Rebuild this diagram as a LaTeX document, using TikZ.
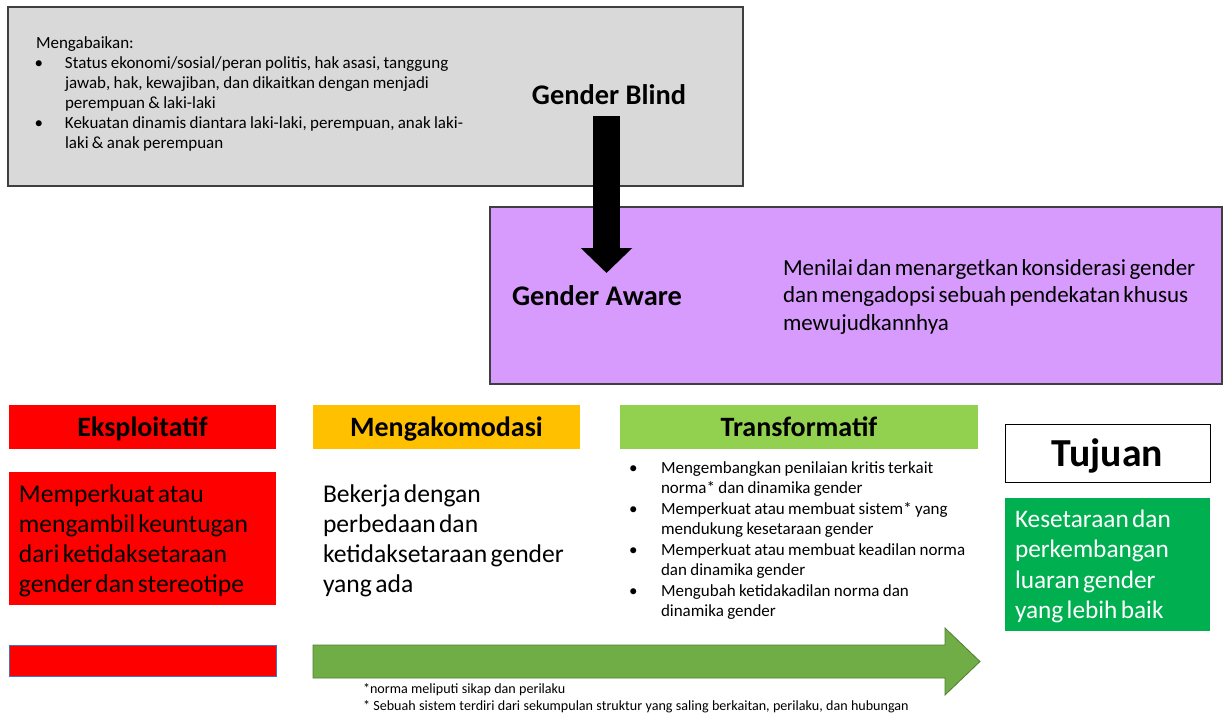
\documentclass[tikz,border=0pt]{standalone}
\usepackage{fontspec}
\setmainfont{Carlito}
\usetikzlibrary{arrows.meta}
\definecolor{grayfill}{HTML}{D9D9D9}
\definecolor{boxline}{HTML}{3F3F3F}
\definecolor{purplefill}{HTML}{D69BFC}
\definecolor{redfill}{HTML}{FF0000}
\definecolor{orangefill}{HTML}{FFC000}
\definecolor{lightgreen}{HTML}{92D050}
\definecolor{goalgreen}{HTML}{00B050}
\definecolor{arrowgreen}{HTML}{70AD47}
\definecolor{arrowedge}{HTML}{507E32}
\definecolor{bluedge}{HTML}{4472C4}
\newcommand\fs[2]{\fontsize{#1}{#2}\selectfont}
\newcommand\bul[1]{\par\noindent\hangindent=29pt\hangafter=1\makebox[29pt][l]{\hspace{-1.5pt}\textbullet}#1\par}
\newcommand\bull[1]{\noindent\hangindent=33pt\hangafter=1\makebox[33pt][l]{\hspace{1pt}\textbullet}#1\par}
\begin{document}
\begin{tikzpicture}[x=1pt,y=-1pt,
  panel/.style={draw=boxline, line width=1.3pt, inner sep=0pt, outer sep=0pt},
  header/.style={inner sep=0pt, outer sep=0pt, minimum width=267pt, minimum height=44pt, font=\fs{28}{32}\bfseries, text height=19pt, text depth=0pt},
  txt/.style={inner sep=0pt, outer sep=0pt, align=left},
  bigarrow/.style={line width=27pt, -{Triangle[length=25pt,width=50pt]}}
]
\useasboundingbox (0,0) rectangle (1224,715);

% gray panel
\node[panel, fill=grayfill, minimum width=735pt, minimum height=179pt] (gray) at (375.5,96.5) {};
\node[txt, anchor=base west, text width=470pt] (graytxt) at (36,48) {\fs{17}{20}Mengabaikan:\bul{Status ekonomi/sosial/peran politis, hak asasi, tanggung\newline jawab, hak, kewajiban, dan dikaitkan dengan menjadi\newline perempuan \& laki-laki}\bul{Kekuatan dinamis diantara laki-laki, perempuan, anak laki-\newline laki \& anak perempuan}};

% purple panel
\node[panel, fill=purplefill, minimum width=732pt, minimum height=177pt] (purple) at (856,295.5) {};
\node[txt, anchor=base west, text width=430pt] (awaretxt) at (783,275) {\fs{23}{27.5}Menilai dan menargetkan konsiderasi gender\newline dan mengadopsi sebuah pendekatan khusus\newline mewujudkannhya\par};

\node[inner sep=0pt, font=\fs{28.4}{32}\bfseries] (blind) at (609,95) {Gender Blind};
\node[inner sep=0pt, font=\fs{28.4}{32}\bfseries] (aware) at (597,296) {Gender Aware};
\draw[bigarrow] ([xshift=-2.5pt]blind.south |- 0,116) -- ([xshift=-2.5pt]blind.south |- 0,273);

% headers
\node[header, fill=redfill] (eks) at (142.5,427) {Eksploitatif};
\node[header, fill=orangefill] (meng) at (446.5,427) {Mengakomodasi};
\node[header, fill=lightgreen, minimum width=358pt] (trans) at (799,427) {Transformatif};
\node[draw=black, line width=1pt, inner sep=0pt, minimum width=205pt, minimum height=58pt, font=\fs{39.7}{44}\bfseries, text height=27pt, text depth=0pt] (tujuan) at (1107.5,453) {Tujuan};

% content
\node[fill=redfill, inner sep=0pt, minimum width=267pt, minimum height=133pt] (eksbox) at (142.5,538.5) {};
\node[txt, anchor=base west, text width=260pt] (ekstxt) at (19,502) {\fs{25.6}{30}Memperkuat atau\newline mengambil keuntugan\newline dari ketidaksetaraan\newline gender dan stereotipe\par};
\node[txt, anchor=base west, text width=280pt] (mengtxt) at (323,502) {\fs{25.6}{30.3}Bekerja dengan\newline perbedaan dan\newline ketidaksetaraan gender\newline yang ada\par};
\node[txt, anchor=base west, text width=340pt] (transtxt) at (628,473) {\fs{17}{20.5}\bull{Mengembangkan penilaian kritis terkait\newline norma* dan dinamika gender}\bull{Memperkuat atau membuat sistem* yang\newline mendukung kesetaraan gender}\bull{Memperkuat atau membuat keadilan norma\newline dan dinamika gender}\bull{Mengubah ketidakadilan norma dan\newline dinamika gender}};
\node[fill=goalgreen, inner sep=0pt, minimum width=205pt, minimum height=133pt] (goalbox) at (1107.5,564.5) {};
\node[txt, anchor=base west, text width=200pt, text=white] (goaltxt) at (1015,527.5) {\fs{25.3}{30.3}Kesetaraan dan\newline perkembangan\newline luaran gender\newline yang lebih baik\par};

% bottom bar and arrow
\node[fill=redfill, draw=bluedge, line width=0.8pt, inner sep=0pt, minimum width=267pt, minimum height=31pt] (redbar) at (142.5,660.5) {};
\draw[fill=arrowgreen, draw=arrowedge, line width=0.8pt] (313,645) -- (945,645) -- (945,628) -- (980,661.5) -- (945,695) -- (945,678) -- (313,678) -- cycle;

% footnotes
\node[txt, anchor=base west, text width=600pt] (notes) at (363,693.5) {\fs{14.1}{17}*norma meliputi sikap dan perilaku\newline * Sebuah sistem terdiri dari sekumpulan struktur yang saling berkaitan, perilaku, dan hubungan\par};
\end{tikzpicture}
\end{document}
